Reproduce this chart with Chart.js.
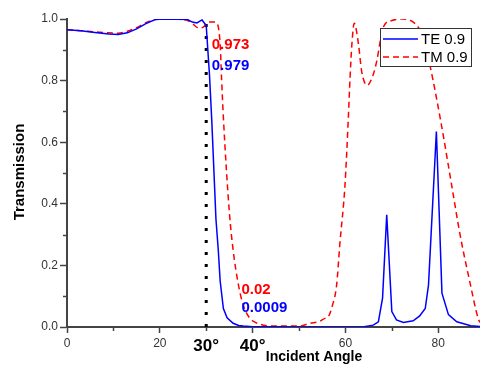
<!DOCTYPE html>
<html>
<head>
<meta charset="utf-8">
<script src="https://cdn.jsdelivr.net/npm/chart.js@4/dist/chart.umd.min.js"></script>
<style>
  html, body { margin: 0; padding: 0; background: #fff; }
  #wrap { width: 480px; height: 370px; }
</style>
</head>
<body>
<div id="wrap"><canvas id="chart" width="480" height="370"></canvas></div>
<script>
// Data
const teAngle = [0, 3, 6, 9, 11, 13, 15, 17, 19, 21, 24, 26, 27, 28, 29.1, 30, 30.7, 31.2, 32.1, 32.6, 33, 33.7, 34.5, 35.8, 37, 38, 40, 45, 50, 55, 60, 64, 66, 67.1, 68, 68.9, 70, 71, 72.5, 74.6, 76, 77.2, 77.9, 79.6, 80.8, 82.2, 84, 87, 89];
const teValue = [0.965, 0.962, 0.956, 0.951, 0.95, 0.955, 0.968, 0.985, 0.998, 1.0, 0.999, 0.998, 0.99, 0.987, 0.997, 0.979, 0.82, 0.67, 0.35, 0.25, 0.15, 0.06, 0.03, 0.012, 0.005, 0.003, 0.0009, 0.0005, 0, 0, 0, 0.001, 0.006, 0.017, 0.094, 0.364, 0.05, 0.023, 0.015, 0.02, 0.036, 0.06, 0.136, 0.635, 0.11, 0.04, 0.017, 0.004, 0.002];

const tmAngle = [0, 3, 6, 9, 11, 13, 15, 17, 19, 21, 24, 26, 27, 28.5, 29.5, 30.3, 32, 33, 33.3, 33.7, 35, 35.8, 36.9, 38, 39.4, 40, 42.3, 45, 50, 52.4, 54.2, 55.6, 56.3, 57.2, 58.1, 58.8, 59.9, 60.6, 61, 61.4, 61.9, 62.8, 63.5, 64.7, 66, 66.7, 68.2, 70, 72.5, 75, 76.5, 78.2, 80.4, 82.9, 84.7, 86.9, 88.6, 89];
const tmValue = [0.965, 0.962, 0.958, 0.955, 0.954, 0.96, 0.972, 0.988, 0.998, 1.0, 0.999, 0.995, 0.985, 0.97, 0.975, 0.99, 0.99, 0.92, 0.81, 0.68, 0.37, 0.25, 0.14, 0.07, 0.028, 0.02, 0.006, 0.003, 0.003, 0.012, 0.017, 0.028, 0.033, 0.07, 0.136, 0.27, 0.46, 0.67, 0.81, 0.92, 0.986, 0.92, 0.83, 0.785, 0.82, 0.86, 0.975, 0.995, 1.0, 0.985, 0.95, 0.85, 0.68, 0.46, 0.3, 0.14, 0.028, 0.015];

const seriesNames = ['TE 0.9', 'TM 0.9'];
const markerAngle = 30;

const xTickValues = [0, 10, 20, 30, 40, 50, 60, 70, 80];
const xTickText = ['0', '', '20', '30°', '40°', '', '60', '', '80'];
const yTickValues = [0, 0.1, 0.2, 0.3, 0.4, 0.5, 0.6, 0.7, 0.8, 0.9, 1.0];
const yTickText = ['0.0', '', '0.2', '', '0.4', '', '0.6', '', '0.8', '', '1.0'];

// value notes: text, angle, transmission
const noteText = ['0.973', '0.979', '0.02', '0.0009'];
const noteAngle = [31.2, 31.2, 37.6, 37.6];
const noteValue = [0.916, 0.847, 0.12, 0.063];
const noteSeries = [1, 0, 1, 0];

const FONT = '"Liberation Sans", Arial, sans-serif';
const AXIS = '#444';

function points(xs, ys) {
    return xs.map((x, i) => ({ x: x, y: ys[i] }));
}

const isMajorX = v => xTickText[xTickValues.indexOf(v)] !== '' || v === 40;

const overlay = {
    id: 'overlay',
    afterDatasetsDraw(chart) {
        const ctx = chart.ctx;
        const xs = chart.scales.x;
        const ys = chart.scales.y;
        const area = chart.chartArea;
        const sets = chart.data.datasets;

        ctx.save();

        // minor ticks
        ctx.strokeStyle = AXIS;
        ctx.lineWidth = 1.5;
        xTickValues.forEach(v => {
            if (isMajorX(v) && v !== 30) return;
            const px = Math.round(xs.getPixelForValue(v)) + 0.5;
            ctx.beginPath();
            ctx.moveTo(px, area.bottom);
            ctx.lineTo(px, area.bottom + 4);
            ctx.stroke();
        });
        yTickValues.forEach((v, i) => {
            if (yTickText[i] !== '') return;
            const py = Math.round(ys.getPixelForValue(v)) + 0.5;
            ctx.beginPath();
            ctx.moveTo(area.left - 4, py);
            ctx.lineTo(area.left, py);
            ctx.stroke();
        });

        // value notes
        ctx.font = 'bold 15px ' + FONT;
        ctx.textAlign = 'left';
        ctx.textBaseline = 'middle';
        noteText.forEach((t, i) => {
            ctx.fillStyle = sets[noteSeries[i]].borderColor;
            ctx.fillText(t, xs.getPixelForValue(noteAngle[i]), ys.getPixelForValue(noteValue[i]));
        });

        // legend box
        const bx = 380, by = 28, bw = 91, bh = 38;
        ctx.fillStyle = '#fff';
        ctx.fillRect(bx, by, bw, bh);
        ctx.strokeStyle = '#333';
        ctx.lineWidth = 1;
        ctx.strokeRect(bx + 0.5, by + 0.5, bw, bh);
        [0, 1].forEach(i => {
            const ds = sets[i];
            const ly = by + 11 + i * 18;
            ctx.strokeStyle = ds.borderColor;
            ctx.lineWidth = ds.borderWidth;
            ctx.setLineDash(ds.borderDash || []);
            ctx.beginPath();
            ctx.moveTo(bx + 3, ly);
            ctx.lineTo(bx + 38, ly);
            ctx.stroke();
            ctx.setLineDash([]);
            ctx.fillStyle = '#000';
            ctx.font = '15px ' + FONT;
            ctx.textBaseline = 'middle';
            ctx.fillText(ds.label, bx + 41, ly + 1);
        });

        // axis titles
        ctx.fillStyle = '#000';
        ctx.font = 'bold 14px ' + FONT;
        ctx.textAlign = 'center';
        ctx.textBaseline = 'middle';
        ctx.fillText('Incident Angle', 314, 357);

        ctx.translate(20, 172);
        ctx.rotate(-Math.PI / 2);
        ctx.font = 'bold 15px ' + FONT;
        ctx.fillText('Transmission', 0, 0);

        ctx.restore();
    }
};

const chart = new Chart(document.getElementById('chart'), {
    type: 'line',
    data: {
        datasets: [{
            label: seriesNames[0],
            data: points(teAngle, teValue),
            borderColor: '#0000ff',
            borderWidth: 1.5,
            pointRadius: 0,
            tension: 0
        }, {
            label: seriesNames[1],
            data: points(tmAngle, tmValue),
            borderColor: '#ff0000',
            borderWidth: 1.5,
            borderDash: [6, 4],
            pointRadius: 0,
            cubicInterpolationMode: 'monotone'
        }, {
            label: 'marker',
            data: [{ x: markerAngle, y: 0 }, { x: markerAngle, y: 1 }],
            borderColor: '#000',
            borderWidth: 3,
            borderDash: [3, 9],
            borderCapStyle: 'butt',
            pointRadius: 0
        }]
    },
    options: {
        responsive: false,
        animation: false,
        layout: { padding: { top: 19, right: 0, bottom: 0, left: 0 } },
        plugins: {
            legend: { display: false },
            tooltip: { enabled: false }
        },
        scales: {
            x: {
                type: 'linear',
                min: 0,
                max: 89,
                afterBuildTicks: scale => { scale.ticks = xTickValues.map(v => ({ value: v })); },
                afterFit: scale => { scale.height = 43; },
                border: { color: AXIS, width: 2 },
                grid: {
                    drawOnChartArea: false,
                    tickLength: 6,
                    tickWidth: 1.5,
                    tickColor: c => (c.tick && isMajorX(c.tick.value) && c.tick.value !== 30) ? AXIS : 'rgba(0,0,0,0)'
                },
                ticks: {
                    padding: 3,
                    autoSkip: false,
                    maxRotation: 0,
                    callback: (v) => xTickText[xTickValues.indexOf(v)],
                    color: c => (c.tick && (c.tick.value === 30 || c.tick.value === 40)) ? '#000' : '#333',
                    font: c => (c.tick && (c.tick.value === 30 || c.tick.value === 40))
                        ? { family: FONT, size: 17, weight: 'bold' }
                        : { family: FONT, size: 12 }
                }
            },
            y: {
                min: 0,
                max: 1,
                afterBuildTicks: scale => { scale.ticks = yTickValues.map(v => ({ value: v })); },
                afterFit: scale => { scale.width = 67; },
                border: { color: AXIS, width: 2 },
                grid: {
                    drawOnChartArea: false,
                    tickLength: 7,
                    tickWidth: 1.5,
                    tickColor: c => (c.tick && yTickText[c.index] !== '') ? AXIS : 'rgba(0,0,0,0)'
                },
                ticks: {
                    padding: 2,
                    autoSkip: false,
                    color: '#333',
                    font: { family: FONT, size: 12 },
                    callback: (v, i) => yTickText[i]
                }
            }
        }
    },
    plugins: [overlay]
});
</script>
</body>
</html>
